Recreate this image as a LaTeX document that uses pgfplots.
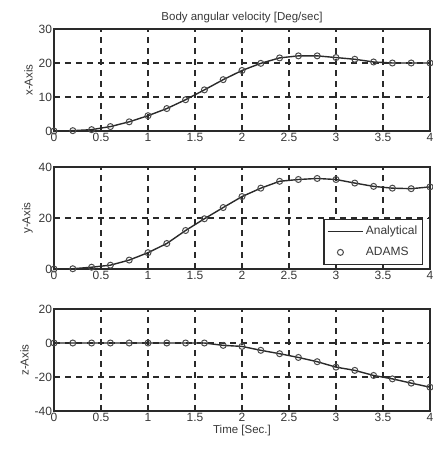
\documentclass[border=0pt]{standalone}
\usepackage{pgfplots}
\pgfplotsset{compat=1.18}
\usepackage{fontspec}
\setmainfont{Liberation Sans}
\definecolor{txt}{HTML}{383838}
\definecolor{ln}{HTML}{2a2a2a}
\pgfplotstableread{
t x y z
0.0 0.0 0.0 0.0
0.2 0.1 0.1 0.0
0.4 0.4 0.7 0.0
0.6 1.3 1.5 0.0
0.8 2.7 3.5 0.0
1.0 4.5 6.4 0.0
1.2 6.6 10.0 0.0
1.4 9.2 15.1 0.0
1.6 12.1 19.7 0.0
1.8 15.1 24.1 -1.4
2.0 17.8 28.4 -2.0
2.2 19.9 31.7 -4.3
2.4 21.5 34.4 -6.3
2.6 22.1 35.1 -8.5
2.8 22.1 35.5 -11.0
3.0 21.6 35.1 -14.2
3.2 21.1 33.7 -16.1
3.4 20.3 32.4 -19.1
3.6 20.0 31.7 -21.1
3.8 20.0 31.5 -23.6
4.0 20.0 32.2 -26.0
}\data
\pgfplotsset{
  myax/.style={
    width=376pt, height=102pt, scale only axis,
    xmin=0, xmax=4,
    xtick={0,0.5,...,4},
    xticklabels={0,0.5,1,1.5,2,2.5,3,3.5,4},
    grid=major,
    major grid style={line width=1.1pt, color=ln, dash pattern=on 6pt off 5pt},
    axis line style={line width=1.2pt, color=ln},
    tick style={color=ln, line width=0.8pt},
    major tick length=3pt,
    tick align=inside,
    xtick pos=both, ytick pos=both,
    tick label style={font=\fontsize{12}{14}\selectfont, color=txt},
    label style={font=\fontsize{11.5}{13}\selectfont, color=txt},
    xticklabel style={yshift=1.5pt},
    yticklabel style={xshift=1.5pt},
    ylabel style={yshift=-1pt},
    /pgf/number format/assume math mode=true,
    anchor=south west,
  },
  lin/.style={line width=1.4pt, color=ln, no marks},
  mk/.style={only marks, mark=o, mark size=3pt, mark options={line width=1pt, color=ln!85}},
  linelegend/.style={legend image code/.code={\draw[##1] (0cm,0cm) -- (1.25cm,0cm);}},
  mklegend/.style={legend image code/.code={\draw[##1] plot coordinates {(0.45cm,0cm)};}},
}
\begin{document}
\begin{tikzpicture}[x=1pt,y=1pt]
\begin{axis}[myax, at={(54pt,319pt)}, ymin=0, ymax=30, ytick={0,10,20,30},
  ylabel={x-Axis}, title={Body angular velocity [Deg/sec]},
  title style={font=\fontsize{11.5}{13}\selectfont, color=txt, yshift=-3pt}]
\addplot[lin] table[x=t,y=x]{\data};
\addplot[mk] table[x=t,y=x]{\data};
\end{axis}
\begin{axis}[myax, at={(54pt,181pt)}, ymin=0, ymax=40, ytick={0,20,40},
  ylabel={y-Axis},
  legend style={at={(0.981,0.04)}, anchor=south east, draw=ln, line width=1.2pt,
    font=\fontsize{12}{14}\selectfont, text=txt, row sep=7pt, inner xsep=3pt, inner ysep=5pt},
  legend cell align=left]
\addplot[lin, linelegend] table[x=t,y=y]{\data};
\addlegendentry{Analytical}
\addplot[mk, mklegend] table[x=t,y=y]{\data};
\addlegendentry{ADAMS}
\end{axis}
\begin{axis}[myax, at={(54pt,39pt)}, ymin=-40, ymax=20, ytick={-40,-20,0,20},
  ylabel={z-Axis}, xlabel={Time [Sec.]}, xlabel style={yshift=3pt}]
\addplot[lin] table[x=t,y=z]{\data};
\addplot[mk] table[x=t,y=z]{\data};
\end{axis}
\pgfresetboundingbox
\path[use as bounding box] (0pt,0pt) rectangle (433pt,450pt);
\end{tikzpicture}
\end{document}
